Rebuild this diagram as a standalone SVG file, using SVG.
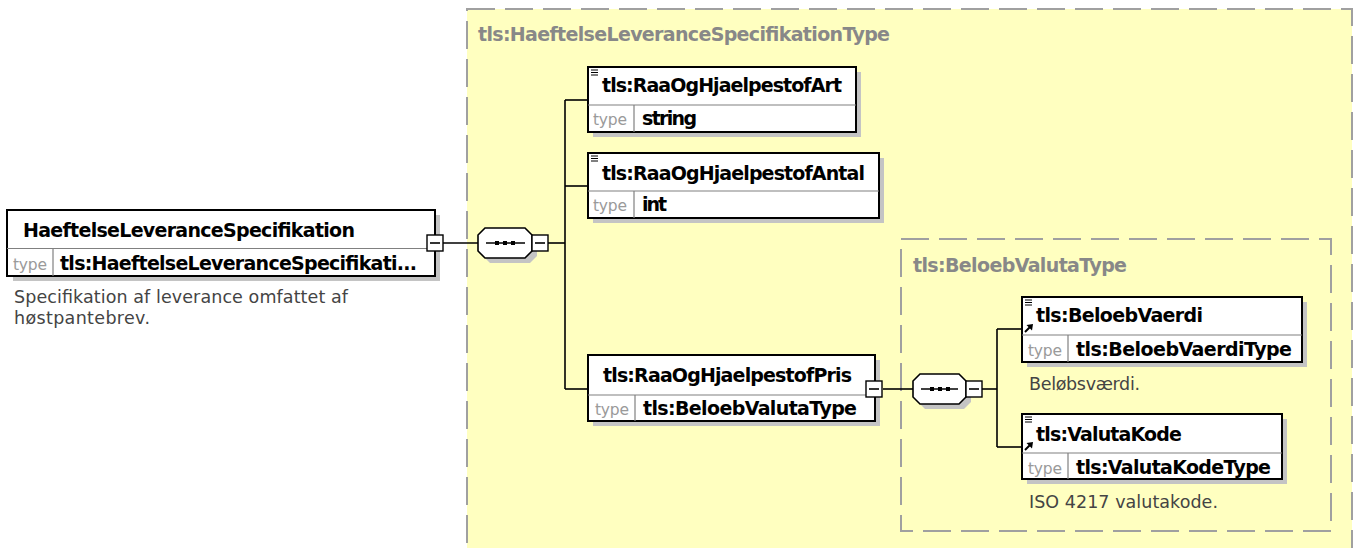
<svg xmlns="http://www.w3.org/2000/svg" width="1356" height="548" viewBox="0 0 1356 548">
<style>
.bg{fill:#ffffff}
.ctype{fill:#ffffc0;stroke:#a0a0a0;stroke-width:2;stroke-dasharray:28 10}
.shadow{fill:#c4c4c4}
.box{fill:#ffffff;stroke:#000;stroke-width:2}
.div{stroke:#808080;stroke-width:1.2;fill:none}
.conn{stroke:#000;stroke-width:1.6;fill:none}
.mbox{fill:#ffffff;stroke:#000;stroke-width:1.4}
.oct{fill:#ffffff;stroke:#000;stroke-width:1.6}
.lbl{font-family:"DejaVu Sans","Liberation Sans",sans-serif;font-weight:bold;font-size:19px;fill:#000}
.tt{font-family:"DejaVu Sans","Liberation Sans",sans-serif;font-size:15.5px;fill:#9a9a9a}
.desc{font-family:"DejaVu Sans","Liberation Sans",sans-serif;font-size:17.5px;fill:#444}
.title{font-family:"DejaVu Sans","Liberation Sans",sans-serif;font-weight:bold;font-size:19px;fill:#888}
.icon{stroke:#000;stroke-width:1;fill:none}
.arr{stroke:#000;stroke-width:2;fill:none}
.arrh{fill:#000}
</style>
<rect class="bg" x="0" y="0" width="1356" height="548"/>

<g id="complexType-outer">
<rect class="ctype" x="467" y="9" width="885" height="560"/>
<text class="title" x="478" y="41" textLength="412">tls:HaeftelseLeveranceSpecifikationType</text>
</g>
<g id="complexType-inner">
<rect class="ctype" x="901" y="239" width="430" height="292"/>
<text class="title" x="913" y="272" textLength="214">tls:BeloebValutaType</text>
</g>

<g id="connectors">
<line class="conn" x1="443" y1="243" x2="478" y2="243"/>
<line class="conn" x1="548" y1="243" x2="565" y2="243"/>
<line class="conn" x1="565" y1="100" x2="565" y2="389"/>
<line class="conn" x1="565" y1="100" x2="588" y2="100"/>
<line class="conn" x1="565" y1="186" x2="588" y2="186"/>
<line class="conn" x1="565" y1="389" x2="588" y2="389"/>
<line class="conn" x1="883" y1="389" x2="913" y2="389"/>
<line class="conn" x1="982" y1="389" x2="997" y2="389"/>
<line class="conn" x1="997" y1="329" x2="997" y2="447"/>
<line class="conn" x1="997" y1="329" x2="1022" y2="329"/>
<line class="conn" x1="997" y1="447" x2="1022" y2="447"/>
</g>

<g id="seq1">
<path class="shadow" d="M490,233 H530 L537,240 V256 L530,263 H490 L483,256 V240 Z"/>
<path class="oct" d="M485,228 H525 L532,235 V251 L525,258 H485 L478,251 V235 Z"/>
<line class="conn" x1="486" y1="243" x2="525" y2="243"/>
<rect x="495" y="241" width="4" height="4" fill="#000"/>
<rect x="503" y="241" width="4" height="4" fill="#000"/>
<rect x="511" y="241" width="4" height="4" fill="#000"/>
<rect class="mbox" x="532" y="235" width="16" height="16"/>
<line class="conn" x1="535" y1="243" x2="545" y2="243"/>
</g>

<g id="seq2">
<path class="shadow" d="M925,379 H964 L971,386 V402 L964,409 H925 L918,402 V386 Z"/>
<path class="oct" d="M920,374 H959 L966,381 V397 L959,404 H920 L913,397 V381 Z"/>
<line class="conn" x1="921" y1="389" x2="958" y2="389"/>
<rect x="930" y="387" width="4" height="4" fill="#000"/>
<rect x="938" y="387" width="4" height="4" fill="#000"/>
<rect x="946" y="387" width="4" height="4" fill="#000"/>
<rect class="mbox" x="966" y="381" width="16" height="16"/>
<line class="conn" x1="969" y1="389" x2="979" y2="389"/>
</g>

<g id="node-HaeftelseLeveranceSpecifikation">
<rect class="shadow" x="13" y="215" width="427" height="66"/>
<rect class="box" x="7" y="210" width="428" height="66"/>
<line class="div" x1="7" y1="248.5" x2="435" y2="248.5"/>
<line class="div" x1="53" y1="248.5" x2="53" y2="276"/>
<text class="lbl" x="23" y="237" textLength="332">HaeftelseLeveranceSpecifikation</text>
<text class="tt" x="13" y="270" textLength="34">type</text>
<text class="lbl" x="60" y="270" textLength="357">tls:HaeftelseLeveranceSpecifikati...</text>
<rect class="mbox" x="427" y="235" width="16" height="16"/>
<line class="conn" x1="430" y1="243" x2="440" y2="243"/>
<text class="desc" x="14" y="303" textLength="334">Specifikation af leverance omfattet af</text>
<text class="desc" x="14" y="324" textLength="136">høstpantebrev.</text>
</g>

<g id="node-RaaOgHjaelpestofArt">
<rect class="shadow" x="593" y="72" width="268" height="65"/>
<rect class="box" x="588" y="67" width="268" height="65"/>
<line class="div" x1="588" y1="105" x2="856" y2="105"/>
<line class="div" x1="634" y1="105" x2="634" y2="132"/>
<path class="icon" d="M591,70 H598 M591,72.5 H598 M591,75 H598"/>
<text class="lbl" x="602" y="92" textLength="240">tls:RaaOgHjaelpestofArt</text>
<text class="tt" x="593" y="125" textLength="34">type</text>
<text class="lbl" x="642" y="125" textLength="55">string</text>
</g>

<g id="node-RaaOgHjaelpestofAntal">
<rect class="shadow" x="593" y="158" width="291" height="65"/>
<rect class="box" x="588" y="153" width="291" height="65"/>
<line class="div" x1="588" y1="191" x2="879" y2="191"/>
<line class="div" x1="634" y1="191" x2="634" y2="218"/>
<path class="icon" d="M591,156 H598 M591,158.5 H598 M591,161 H598"/>
<text class="lbl" x="602" y="180" textLength="263">tls:RaaOgHjaelpestofAntal</text>
<text class="tt" x="593" y="211" textLength="34">type</text>
<text class="lbl" x="642" y="211" textLength="25">int</text>
</g>

<g id="node-RaaOgHjaelpestofPris">
<rect class="shadow" x="593" y="360" width="287" height="66"/>
<rect class="box" x="588" y="355" width="287" height="66"/>
<line class="div" x1="588" y1="395" x2="875" y2="395"/>
<line class="div" x1="635" y1="395" x2="635" y2="421"/>
<text class="lbl" x="603" y="382" textLength="249">tls:RaaOgHjaelpestofPris</text>
<text class="tt" x="595" y="415" textLength="34">type</text>
<text class="lbl" x="643" y="415" textLength="214">tls:BeloebValutaType</text>
<rect class="mbox" x="866" y="381" width="16" height="16"/>
<line class="conn" x1="869" y1="389" x2="879" y2="389"/>
</g>

<g id="node-BeloebVaerdi">
<rect class="shadow" x="1027" y="302" width="280" height="65"/>
<rect class="box" x="1022" y="297" width="280" height="65"/>
<line class="div" x1="1022" y1="335" x2="1302" y2="335"/>
<line class="div" x1="1068" y1="335" x2="1068" y2="362"/>
<path class="icon" d="M1025,300 H1032 M1025,302.5 H1032 M1025,305 H1032"/>
<path class="arr" d="M1025,332 L1030,327"/>
<path class="arrh" d="M1033,324 L1026.5,325 L1032,330.5 Z"/>
<text class="lbl" x="1036" y="322" textLength="167">tls:BeloebVaerdi</text>
<text class="tt" x="1028" y="356" textLength="34">type</text>
<text class="lbl" x="1076" y="356" textLength="216">tls:BeloebVaerdiType</text>
<text class="desc" x="1029" y="390" textLength="111">Beløbsværdi.</text>
</g>

<g id="node-ValutaKode">
<rect class="shadow" x="1027" y="419" width="260" height="65"/>
<rect class="box" x="1022" y="414" width="260" height="65"/>
<line class="div" x1="1022" y1="453" x2="1282" y2="453"/>
<line class="div" x1="1068" y1="453" x2="1068" y2="479"/>
<path class="icon" d="M1025,417 H1032 M1025,419.5 H1032 M1025,422 H1032"/>
<path class="arr" d="M1025,450 L1030,445"/>
<path class="arrh" d="M1033,442 L1026.5,443 L1032,448.5 Z"/>
<text class="lbl" x="1036" y="441" textLength="146">tls:ValutaKode</text>
<text class="tt" x="1028" y="474" textLength="34">type</text>
<text class="lbl" x="1076" y="474" textLength="195">tls:ValutaKodeType</text>
<text class="desc" x="1029" y="508" textLength="189">ISO 4217 valutakode.</text>
</g>
</svg>
